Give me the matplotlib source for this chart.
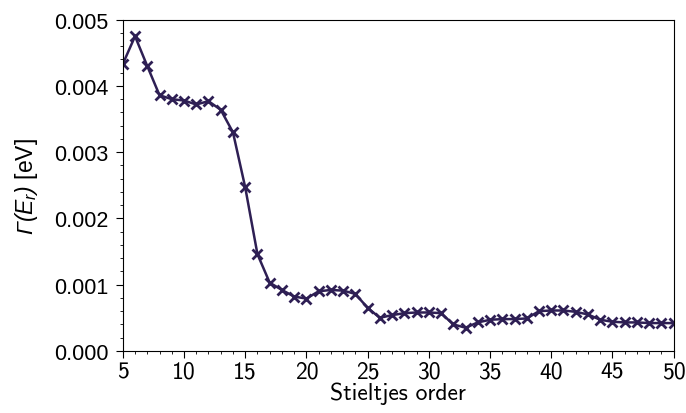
import matplotlib
matplotlib.use("Agg")
import matplotlib.pyplot as plt
from matplotlib.ticker import MultipleLocator

# Stieltjes order vs. resonance width
orders = list(range(5, 51))
width_ev = [
    0.00433, 0.00475, 0.00430, 0.00386, 0.00380, 0.00378, 0.00372, 0.00377,
    0.00364, 0.00330, 0.00247, 0.00146, 0.00103, 0.00092, 0.00082, 0.00079,
    0.00090, 0.00092, 0.00091, 0.00086, 0.00065, 0.00050, 0.00054, 0.00057,
    0.00058, 0.00058, 0.00057, 0.00040, 0.00035, 0.00043, 0.00047, 0.00048,
    0.00048, 0.00049, 0.00060, 0.00061, 0.00061, 0.00059, 0.00055, 0.00047,
    0.00044, 0.00043, 0.00043, 0.00042, 0.00042, 0.00042,
]
x_ticks = list(range(5, 51, 5))

LINE_C = "#2e1f54"

plt.rcParams["font.family"] = ["Liberation Sans", "DejaVu Sans"]
# italic sans maths for the y label (Greek capital stays slanted too)
plt.rcParams["mathtext.rm"] = "Liberation Sans:italic"
plt.rcParams["mathtext.it"] = "Liberation Sans:italic"

fig = plt.figure(figsize=(6.86, 4.14), dpi=100)
ax = fig.add_axes([0.179, 0.150, 0.803, 0.800])

ax.plot(orders, width_ev, color=LINE_C, lw=1.8, marker="x", ms=6.5, mew=2.0)

ax.set_xlim(5, 50)
ax.set_ylim(0, 0.005)
ax.set_xticks(x_ticks)
ax.set_xticklabels([str(t) for t in x_ticks], fontfamily="cmss10", fontsize=17)
ax.xaxis.set_minor_locator(MultipleLocator(1))
ax.yaxis.set_major_locator(MultipleLocator(0.001))
ax.yaxis.set_minor_locator(MultipleLocator(0.0002))
ax.yaxis.set_major_formatter(plt.FormatStrFormatter("%.3f"))
ax.tick_params(which="major", length=5, width=0.8)
ax.tick_params(which="minor", length=2.5, width=0.6)
ax.tick_params(axis="y", labelsize=15.5, pad=5.5)
ax.tick_params(axis="x", pad=2)

ax.set_xlabel("Stieltjes order", fontsize=17, fontfamily="cmss10", labelpad=-1)
ax.set_ylabel(r"$\Gamma(E_r)$ [eV]", fontsize=16.5, labelpad=10,
              math_fontfamily="custom")

fig.savefig("out.png", dpi=100)
